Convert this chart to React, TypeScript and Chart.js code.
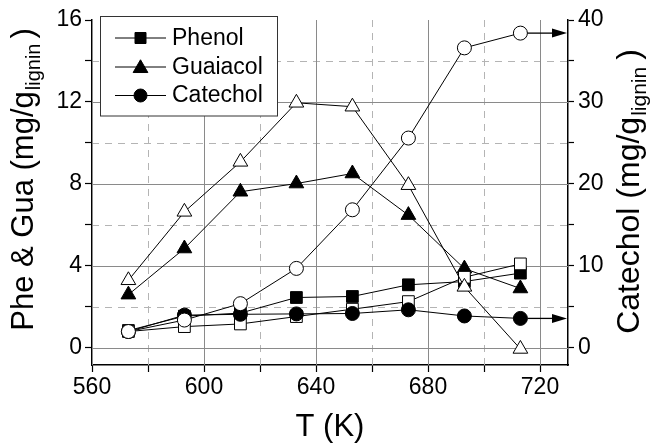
import React, { useEffect, useRef } from 'react';
import { Chart, registerables } from 'chart.js';

Chart.register(...registerables);

// ---- data ----
const temperatures = [573, 593, 613, 633, 653, 673, 693, 713];
const phenolFilled = [0.85, 1.55, 1.7, 2.46, 2.51, 3.08, 3.24, 3.65];
const phenolOpen = [0.8, 1.04, 1.17, 1.53, 1.89, 2.26, 3.45, 4.1];
const guaiacolFilled = [2.6, 4.85, 7.62, 8.02, 8.51, 6.48, 3.87, 2.9];
const guaiacolOpen = [3.3, 6.64, 9.08, 11.96, 11.77, 7.94, 2.98, -0.05];
const catecholFilled = [2.0, 4.0, 4.1, 4.15, 4.2, 4.65, 3.9, 3.6];
const catecholOpen = [2.0, 3.4, 5.4, 9.7, 16.85, 25.6, 36.6, 38.4];

const xMajorTicks = [560, 600, 640, 680, 720];
const xMinorTicks = [580, 620, 660, 700];
const yMajorTicks = [0, 4, 8, 12];
const yMinorTicks = [2, 6, 10, 14];

const legendLabels = ['Phenol', 'Guaiacol', 'Catechol'];

const FONT = "'Liberation Sans', Arial, Helvetica, sans-serif";

function pts(values: number[]) {
  return temperatures.map((t, i) => ({ x: t, y: values[i] }));
}

function drawMarker(ctx: CanvasRenderingContext2D, style: string, x: number, y: number, filled: boolean) {
  ctx.save();
  ctx.beginPath();
  if (style === 'circle') {
    ctx.arc(x, y, 6.5, 0, Math.PI * 2);
  } else if (style === 'rect') {
    ctx.rect(x - 5.5, y - 5.5, 11, 11);
  } else {
    const r = 8.5;
    ctx.moveTo(x, y - r * 0.85);
    ctx.lineTo(x + r * 0.866, y + r * 0.65);
    ctx.lineTo(x - r * 0.866, y + r * 0.65);
    ctx.closePath();
  }
  ctx.fillStyle = filled ? '#000' : '#fff';
  ctx.fill();
  ctx.lineWidth = 1;
  ctx.strokeStyle = '#000';
  ctx.stroke();
  ctx.restore();
}

const gridPlugin = {
  id: 'customGrid',
  beforeDatasetsDraw(chart: any) {
    const { ctx, chartArea: a, scales } = chart;
    const xs = scales.x;
    const ys = scales.y;
    ctx.save();
    ctx.lineWidth = 1;
    ctx.strokeStyle = '#b4b4b4';
    ctx.setLineDash([7, 6]);
    xMinorTicks.forEach((v) => {
      const px = Math.round(xs.getPixelForValue(v)) + 0.5;
      ctx.beginPath();
      ctx.moveTo(px, a.bottom);
      ctx.lineTo(px, a.top);
      ctx.stroke();
    });
    yMinorTicks.forEach((v) => {
      const py = Math.round(ys.getPixelForValue(v)) + 0.5;
      ctx.beginPath();
      ctx.moveTo(a.left, py);
      ctx.lineTo(a.right, py);
      ctx.stroke();
    });
    ctx.setLineDash([]);
    ctx.strokeStyle = '#8a8a8a';
    xMajorTicks.forEach((v) => {
      const px = Math.round(xs.getPixelForValue(v)) + 0.5;
      ctx.beginPath();
      ctx.moveTo(px, a.bottom);
      ctx.lineTo(px, a.top);
      ctx.stroke();
    });
    yMajorTicks.forEach((v) => {
      const py = Math.round(ys.getPixelForValue(v)) + 0.5;
      ctx.beginPath();
      ctx.moveTo(a.left, py);
      ctx.lineTo(a.right, py);
      ctx.stroke();
    });
    ctx.restore();
  },
};

function drawArrow(ctx: CanvasRenderingContext2D, x0: number, x1: number, y: number) {
  ctx.save();
  ctx.strokeStyle = '#000';
  ctx.fillStyle = '#000';
  ctx.lineWidth = 1.3;
  ctx.beginPath();
  ctx.moveTo(x0, y);
  ctx.lineTo(x1 - 12, y);
  ctx.stroke();
  ctx.beginPath();
  ctx.moveTo(x1, y);
  ctx.lineTo(x1 - 15, y - 4.5);
  ctx.lineTo(x1 - 15, y + 4.5);
  ctx.closePath();
  ctx.fill();
  ctx.restore();
}

function drawRotatedTitle(
  ctx: CanvasRenderingContext2D,
  cx: number,
  cy: number,
  main: string,
  sub: string,
  tail: string,
  size: number,
  subSize: number,
  gap: number
) {
  ctx.save();
  ctx.translate(cx, cy);
  ctx.rotate(-Math.PI / 2);
  ctx.fillStyle = '#000';
  ctx.textAlign = 'left';
  ctx.textBaseline = 'alphabetic';
  const mainFont = `${size}px ${FONT}`;
  const subFont = `${subSize}px ${FONT}`;
  ctx.font = mainFont;
  const w1 = ctx.measureText(main).width;
  const wt = ctx.measureText(tail).width;
  ctx.font = subFont;
  const ws = ctx.measureText(sub).width;
  const total = w1 + ws + gap + wt;
  let x = -total / 2;
  ctx.font = mainFont;
  ctx.fillText(main, x, 0);
  x += w1 + 1;
  ctx.font = subFont;
  ctx.fillText(sub, x, 7);
  x += ws + gap;
  ctx.font = mainFont;
  ctx.fillText(tail, x, 0);
  ctx.restore();
}

const overlayPlugin = {
  id: 'overlay',
  afterDatasetsDraw(chart: any) {
    const { ctx, chartArea: a, scales } = chart;
    const xs = scales.x;
    const y2 = scales.y2;
    const last = temperatures.length - 1;
    const xp = xs.getPixelForValue(temperatures[last]);
    drawArrow(ctx, xp + 7, a.right - 1, y2.getPixelForValue(catecholOpen[last]));
    drawArrow(ctx, xp + 7, a.right - 1, y2.getPixelForValue(catecholFilled[last]));
  },
  afterDraw(chart: any) {
    const { ctx, chartArea: a } = chart;
    drawRotatedTitle(ctx, 33, 180, 'Phe & Gua (mg/g', 'lignin', ')', 31, 20, 5);
    drawRotatedTitle(ctx, 639, 192, 'Catechol (mg/g', 'lignin', ')', 32, 21, 7);
    ctx.save();
    ctx.fillStyle = '#000';
    ctx.font = `31px ${FONT}`;
    ctx.textAlign = 'center';
    ctx.textBaseline = 'alphabetic';
    ctx.fillText('T (K)', (a.left + a.right) / 2, 436);
    ctx.restore();

    // legend
    ctx.save();
    ctx.fillStyle = '#fff';
    ctx.fillRect(100.5, 16.5, 177, 99.5);
    ctx.strokeStyle = '#333';
    ctx.lineWidth = 1;
    ctx.strokeRect(100.5, 16.5, 177, 99.5);
    const styles = ['rect', 'triangle', 'circle'];
    const rowsY = [37.5, 66.5, 95];
    legendLabels.forEach((label, i) => {
      const y = rowsY[i];
      ctx.strokeStyle = '#000';
      ctx.lineWidth = 1;
      ctx.beginPath();
      ctx.moveTo(115, y + 0.5);
      ctx.lineTo(166, y + 0.5);
      ctx.stroke();
      drawMarker(ctx, styles[i], 140.5, y + 0.5, true);
      ctx.fillStyle = '#000';
      ctx.font = `23px ${FONT}`;
      ctx.textAlign = 'left';
      ctx.textBaseline = 'middle';
      ctx.fillText(label, 172, y + 1);
    });
    ctx.restore();
  },
};

function series(label: string, values: number[], axis: string, style: string, filled: boolean, radius: number) {
  return {
    label,
    data: pts(values),
    yAxisID: axis,
    borderColor: '#000',
    borderWidth: 1,
    pointStyle: style,
    pointRadius: radius,
    pointBackgroundColor: filled ? '#000' : '#fff',
    pointBorderColor: '#000',
    pointBorderWidth: 1,
    tension: 0,
    fill: false,
    showLine: true,
  };
}

export default function App() {
  const canvasRef = useRef<HTMLCanvasElement | null>(null);

  useEffect(() => {
    document.body.style.margin = '0';
    const canvas = canvasRef.current;
    if (!canvas) return;
    const tickFont = { family: FONT, size: 23 };
    const chart = new Chart(canvas, {
      type: 'line',
      data: {
        datasets: [
          series('Catechol (open)', catecholOpen, 'y2', 'circle', false, 7),
          series('Guaiacol (open)', guaiacolOpen, 'y', 'triangle', false, 8.5),
          series('Catechol', catecholFilled, 'y2', 'circle', true, 7),
          series('Phenol (open)', phenolOpen, 'y', 'rect', false, 8.3),
          series('Guaiacol', guaiacolFilled, 'y', 'triangle', true, 8.5),
          series('Phenol', phenolFilled, 'y', 'rect', true, 8.3),
        ] as any,
      },
      options: {
        responsive: false,
        animation: false,
        devicePixelRatio: 1,
        layout: { padding: { top: 20, left: 0, right: 0, bottom: 0 } },
        plugins: {
          legend: { display: false },
          tooltip: { enabled: false },
          title: { display: false },
        },
        scales: {
          x: {
            type: 'linear',
            min: 560,
            max: 730,
            ticks: {
              stepSize: 20,
              includeBounds: false,
              autoSkip: false,
              maxRotation: 0,
              color: '#000',
              font: tickFont,
              padding: 2,
              callback: (v: any) => (Number(v) % 40 === 0 ? String(v) : ''),
            },
            grid: {
              drawOnChartArea: false,
              drawTicks: true,
              tickLength: 7,
              tickColor: '#000',
              tickWidth: 1.2,
            },
            border: { color: '#000', width: 1.5 },
            afterFit: (s: any) => {
              s.height = 80;
            },
          },
          y: {
            type: 'linear',
            position: 'left',
            min: -0.833,
            max: 16,
            ticks: {
              stepSize: 2,
              includeBounds: false,
              autoSkip: false,
              color: '#000',
              font: tickFont,
              padding: 3,
              callback: (v: any) => (Number(v) % 4 === 0 ? String(v) : ''),
            },
            grid: {
              drawOnChartArea: false,
              drawTicks: true,
              tickLength: 7,
              tickColor: '#000',
              tickWidth: 1.2,
            },
            border: { color: '#000', width: 1.5 },
            afterFit: (s: any) => {
              s.width = 92;
            },
          },
          y2: {
            type: 'linear',
            position: 'right',
            min: -2.0825,
            max: 40,
            ticks: {
              stepSize: 5,
              includeBounds: false,
              autoSkip: false,
              color: '#000',
              font: tickFont,
              padding: 4,
              callback: (v: any) => (Number(v) % 10 === 0 ? String(v) : ''),
            },
            grid: {
              drawOnChartArea: false,
              drawTicks: true,
              tickLength: 6,
              tickColor: '#000',
              tickWidth: 1.2,
            },
            border: { color: '#000', width: 1.5 },
            afterFit: (s: any) => {
              s.width = 87;
            },
          },
        },
      } as any,
      plugins: [gridPlugin, overlayPlugin],
    });
    return () => chart.destroy();
  }, []);

  return (
    <div style={{ width: 655, height: 445 }}>
      <canvas ref={canvasRef} width={655} height={445} />
    </div>
  );
}
